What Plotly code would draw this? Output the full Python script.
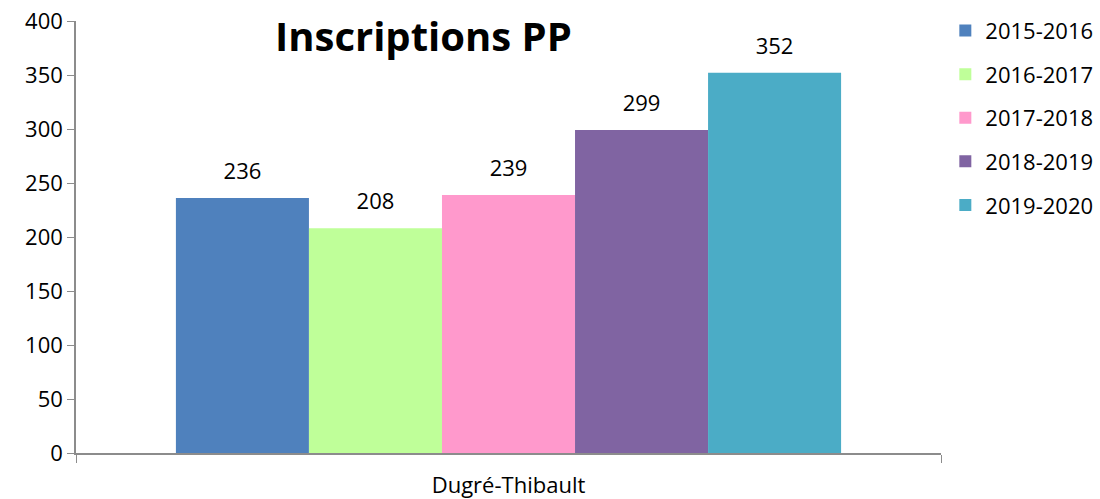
import plotly.graph_objects as go

category = ["Dugré-Thibault"]
seasons = ["2015-2016", "2016-2017", "2017-2018", "2018-2019", "2019-2020"]
values = [236, 208, 239, 299, 352]
colors = ["#4F81BD", "#BFFF99", "#FF99CC", "#8064A2", "#4BACC6"]

FONT = "Open Sans"
fig = go.Figure()
for s, v, c in zip(seasons, values, colors):
    fig.add_trace(go.Bar(
        x=category, y=[v], name=s, legendgroup=s, offsetgroup=s,
        marker=dict(color=c, line=dict(width=0)),
    ))
for s, v in zip(seasons, values):
    fig.add_trace(go.Scatter(
        x=category, y=[v], mode="markers+text", text=[str(v)],
        textposition="top center", offsetgroup=s, showlegend=False,
        marker=dict(size=20, opacity=0), hoverinfo="skip",
        textfont=dict(family=FONT, size=22, color="#000"), cliponaxis=False,
    ))

fig.update_layout(
    width=1100, height=499,
    margin=dict(l=76, r=159, t=21, b=46, autoexpand=False),
    paper_bgcolor="white", plot_bgcolor="white",
    barmode="group", bargap=0.231, bargroupgap=0,
    scattermode="group", scattergap=0.231,
    font=dict(family=FONT, size=22, color="#000"),
    showlegend=True,
    legend=dict(x=1.005, y=1.026, xanchor="left", yanchor="top",
                font=dict(family=FONT, size=22, color="#000"),
                tracegroupgap=12, itemwidth=30),
    annotations=[dict(text="<b>Inscriptions PP</b>", xref="paper", yref="paper",
                      x=0.402, y=0.966, xanchor="center", yanchor="middle",
                      showarrow=False, font=dict(family=FONT, size=40, color="#000"))],
)
fig.update_yaxes(range=[0, 400], dtick=50, showgrid=False, showline=True,
                 linecolor="#8c8c8c", linewidth=1.5, ticks="outside", ticklen=7,
                 tickcolor="#8c8c8c", tickfont=dict(family=FONT, size=22),
                 zeroline=False, automargin=False, ticklabeloverflow="allow")
fig.update_xaxes(showline=True, linecolor="#8c8c8c", linewidth=1.5, ticks="outside",
                 tickson="boundaries", ticklen=8, tickcolor="#8c8c8c",
                 tickfont=dict(family=FONT, size=22), automargin=False,
                 ticklabelstandoff=12, ticklabeloverflow="allow")

fig.write_html("out.html", config={"displayModeBar": False},
               post_script="document.body.style.margin='0';")
